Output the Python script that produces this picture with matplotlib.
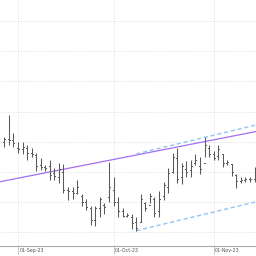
import matplotlib
matplotlib.use("Agg")
import matplotlib.pyplot as plt
import pandas as pd

dates = pd.bdate_range("2023-08-29", periods=56)
highs = [25.8, 29.5, 26.5, 24.9, 24.9, 24.5, 23.9, 23.2, 22.4, 21.2,
         22.0, 20.7, 21.5, 21.4, 17.6, 17.6, 18.7, 16.4, 15.6, 14.3,
         14.3, 15.9, 14.8, 21.7, 19.1, 15.8, 14.1, 13.3, 13.0, 12.6,
         16.3, 15.1, 16.6, 15.8, 16.8, 18.4, 20.7, 23.2, 23.9, 21.5,
         21.9, 22.0, 22.9, 22.5, 25.8, 24.5, 23.4, 24.5, 22.9, 22.0,
         21.4, 19.7, 19.1, 19.2, 19.2, 20.9]
lows = [24.2, 24.5, 24.2, 23.2, 22.9, 22.0, 22.5, 20.2, 20.4, 20.1,
        18.6, 18.7, 18.2, 16.6, 15.4, 15.6, 16.3, 14.3, 13.8, 11.2,
        11.0, 12.5, 13.0, 15.1, 14.3, 12.6, 12.6, 12.5, 10.5, 10.3,
        11.7, 13.5, 14.8, 12.6, 12.6, 15.4, 16.6, 19.9, 18.2, 18.1,
        19.1, 19.2, 21.1, 19.6, 22.5, 22.5, 22.0, 22.0, 20.9, 21.1,
        19.4, 17.3, 18.2, 18.4, 18.4, 18.4]
opens = [25.0, 25.5, 25.3, 24.0, 23.8, 24.0, 23.2, 22.8, 21.2, 20.8,
         21.0, 19.8, 19.2, 20.0, 17.0, 16.8, 16.5, 16.0, 15.0, 14.0,
         12.0, 14.0, 14.5, 15.8, 17.0, 15.0, 13.5, 12.8, 12.6, 11.8,
         11.8, 14.8, 14.5, 15.5, 13.5, 16.0, 17.5, 20.0, 22.3, 19.2,
         20.5, 20.3, 21.5, 21.0, 21.5, 24.0, 23.0, 22.6, 23.0, 21.5,
         21.3, 19.5, 18.5, 18.7, 18.8, 18.8]
closes = [25.5, 25.3, 24.8, 23.8, 24.2, 23.2, 23.0, 21.0, 20.8, 20.6,
          19.5, 19.3, 20.5, 17.0, 16.8, 16.5, 17.5, 15.0, 14.2, 12.0,
          14.0, 15.5, 14.2, 17.5, 15.0, 13.5, 12.8, 12.9, 11.5, 10.8,
          15.5, 14.0, 16.0, 13.2, 15.5, 17.8, 19.8, 22.5, 18.8, 21.0,
          20.0, 21.0, 22.0, 20.5, 24.5, 23.0, 22.4, 23.8, 21.5, 21.6,
          20.0, 18.5, 18.7, 18.8, 18.8, 20.0]

# trend line anchors (bar index, price)
trend_pts = [(0, 18.54), (55, 26.65)]
channel_low = [(29, 10.3), (60, 15.93)]
channel_high = [(29, 23.0), (60, 28.63)]

yticks = [10, 15, 20, 25, 30, 35, 40, 45]

fig = plt.figure(figsize=(2.56, 2.56), dpi=100)
ax = fig.add_axes([0, 10.5/256, 1, 1 - 10.5/256])

bar_c = "#5a5a5a"
for i in range(len(dates)):
    ax.plot([i, i], [lows[i], highs[i]], color=bar_c, lw=0.75, solid_capstyle="butt", zorder=3)
    ax.plot([i - 0.22, i], [opens[i], opens[i]], color=bar_c, lw=0.7, zorder=3)
    ax.plot([i, i + 0.22], [closes[i], closes[i]], color=bar_c, lw=0.7, zorder=3)

ax.axline(trend_pts[0], trend_pts[1], color="#a46ef2", lw=0.9, zorder=2)
ax.plot([p[0] for p in channel_high], [p[1] for p in channel_high],
        color="#92c4f4", lw=1.0, ls=(0, (3, 2)), zorder=2.5)
ax.plot([p[0] for p in channel_low], [p[1] for p in channel_low],
        color="#92c4f4", lw=1.0, ls=(0, (3, 2)), zorder=2.5)

ax.set_xlim(-0.956, 55.31)
ax.set_ylim(7.85, 48.45)

# month ticks
month_pos = []
month_lab = []
prev = None
for i, d in enumerate(dates):
    if prev is not None and d.month != prev.month:
        month_pos.append(i)
        month_lab.append("01-" + d.strftime("%b-%y"))
    prev = d
ax.set_xticks(month_pos)
ax.set_xticklabels(month_lab, ha="left", fontsize=3.4, color="#555555")
ax.set_yticks(yticks)
ax.tick_params(axis="x", length=6, width=0.6, color="#bbbbbb", pad=-4.2)
ax.tick_params(axis="y", length=0, labelleft=False)
import matplotlib.transforms as mtransforms
offset = mtransforms.ScaledTranslation(1.5 / 100, 0, fig.dpi_scale_trans)
for lab in ax.get_xticklabels():
    lab.set_transform(lab.get_transform() + offset)
ax.grid(True, color="#e2e2e2", lw=0.6, ls=(0, (1.5, 1.5)))
ax.set_axisbelow(True)
for s in ["top", "right", "left"]:
    ax.spines[s].set_visible(False)
ax.spines["bottom"].set_color("#aaaaaa")
ax.spines["bottom"].set_linewidth(0.8)

fig.savefig("out.png", dpi=100)
